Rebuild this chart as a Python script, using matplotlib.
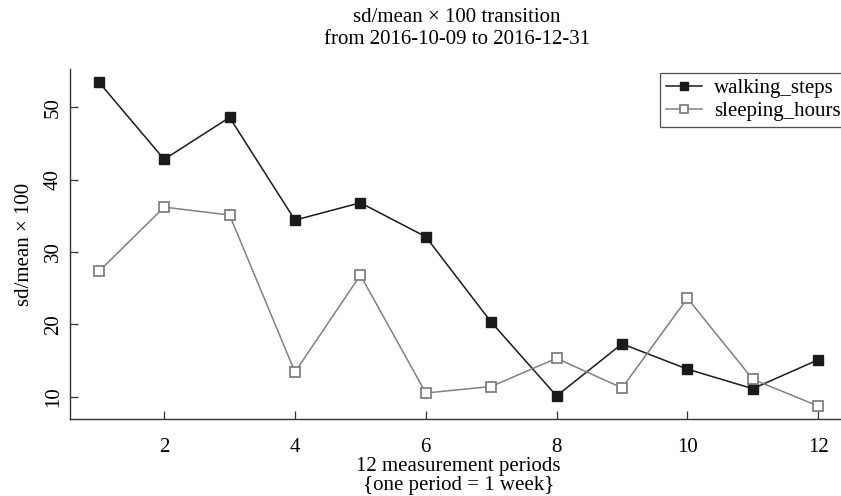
import matplotlib
matplotlib.use("Agg")
import matplotlib.pyplot as plt

W, H = 841, 496

periods = [1, 2, 3, 4, 5, 6, 7, 8, 9, 10, 11, 12]
walking_steps = [53.5, 42.8, 48.6, 34.4, 36.8, 32.1, 20.3, 10.1, 17.3, 13.8, 11.1, 15.1]
sleeping_hours = [27.3, 36.2, 35.1, 13.4, 26.8, 10.5, 11.4, 15.3, 11.2, 23.6, 12.4, 8.7]
x_ticks = [2, 4, 6, 8, 10, 12]
y_ticks = [10, 20, 30, 40, 50]

plt.rcParams["font.family"] = ["Liberation Serif", "DejaVu Serif"]
plt.rcParams["font.size"] = 15


def main():
    fig = plt.figure(figsize=(W / 100, H / 100), dpi=100)

    #plot region in pixels, axis runs off the right edge like the original
    left, right, top, bottom = 70, 847, 69, 419
    ax = fig.add_axes([left / W, 1 - bottom / H, (right - left) / W, (bottom - top) / H])

    ax.plot(periods, walking_steps, color="#1a1a1a", lw=1.1, marker="s",
            ms=7.5, mfc="#1a1a1a", mec="#1a1a1a", label="walking_steps")
    ax.plot(periods, sleeping_hours, color="#808080", lw=1.1, marker="s",
            ms=7.5, mfc="white", mec="#808080", mew=1.3, label="sleeping_hours")

    #R style axes: only left and bottom, 4% padding
    ax.set_xlim(0.56, 12.44)
    lo, hi = min(sleeping_hours + walking_steps), max(sleeping_hours + walking_steps)
    pad = (hi - lo) * 0.04
    ax.set_ylim(lo - pad, hi + pad)
    ax.spines["top"].set_visible(False)
    ax.spines["right"].set_visible(False)
    for s in ("left", "bottom"):
        ax.spines[s].set_color("#333333")
        ax.spines[s].set_linewidth(1.0)

    ax.set_xticks(x_ticks)
    ax.set_yticks(y_ticks)
    ax.tick_params(direction="in", length=6, width=0.9, color="#333333", pad=14)
    ax.tick_params(axis="y", labelrotation=90, pad=5)
    for lab in ax.get_yticklabels():
        lab.set_va("center")

    ax.set_ylabel("sd/mean × 100", labelpad=7)
    ax.set_xlabel("12 measurement periods\n{one period = 1 week}", labelpad=0, linespacing=1.0)

    fig.text(457 / W, 1 - 8 / H, "sd/mean × 100 transition\nfrom 2016-10-09 to 2016-12-31",
             ha="center", va="top", linespacing=1.25)

    leg = ax.legend(loc="upper right", bbox_to_anchor=(1.0, 0.99), frameon=True,
                    fancybox=False, borderaxespad=0, handlelength=1.7,
                    handletextpad=0.6, borderpad=0.3, labelspacing=0.15,
                    markerscale=0.8)
    leg.get_frame().set_edgecolor("#222222")
    leg.get_frame().set_linewidth(0.9)

    fig.savefig("out.png", dpi=100)


if __name__ == "__main__":
    main()
